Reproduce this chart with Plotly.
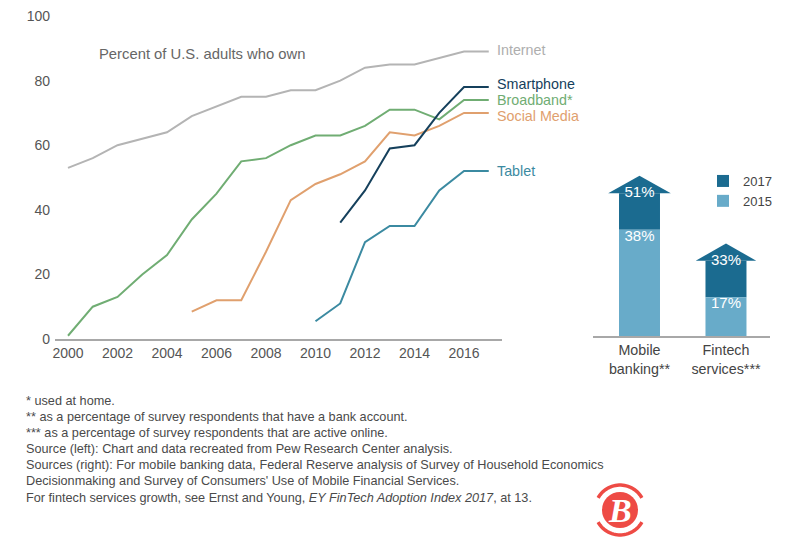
import numpy as np
import plotly.graph_objects as go

W, H = 800, 544
years = list(range(2000, 2018))
internet = [53, 56, 60, 62, 64, 69, 72, 75, 75, 77, 77, 80, 84, 85, 85, 87, 89, 89]
broadband = [1, 10, 13, 20, 26, 37, 45, 55, 56, 60, 63, 63, 66, 71, 71, 68, 74, 74]
social_years = list(range(2005, 2018))
social = [8.5, 12, 12, 27, 43, 48, 51, 55, 64, 63, 66, 70, 70]
smart_years = list(range(2011, 2018))
smartphone = [36, 46, 59, 60, 70, 78, 78]
tablet_years = list(range(2010, 2018))
tablet = [5.5, 11, 30, 35, 35, 46, 52, 52]

bar_categories = ["Mobile<br>banking**", "Fintech<br>services***"]
values_2015 = [38, 17]
values_2017 = [51, 33]

footnotes = [
    "* used at home.",
    "** as a percentage of survey respondents that have a bank account.",
    "*** as a percentage of survey respondents that are active online.",
    "Source (left): Chart and data recreated from Pew Research Center analysis.",
    "Sources (right): For mobile banking data, Federal Reserve analysis of Survey of Household Economics",
    "Decisionmaking and Survey of Consumers' Use of Mobile Financial Services.",
    "For fintech services growth, see Ernst and Young, <i>EY FinTech Adoption Index 2017</i>, at 13.",
]
foot_y = [401, 417, 433, 449, 465, 481, 498]

C_INT, C_BB, C_SOC, C_SM, C_TAB = "#b4b4b4", "#70ad73", "#e0a06e", "#15405c", "#3b8aa1"
C_17, C_15 = "#1b6b90", "#68abc9"
FONT = "Liberation Sans"

def px(x): return x / W
def py(y): return 1 - y / H

fig = go.Figure()
series = [("Internet", years, internet, C_INT), ("Broadband*", years, broadband, C_BB),
          ("Social Media", social_years, social, C_SOC), ("Smartphone", smart_years, smartphone, C_SM),
          ("Tablet", tablet_years, tablet, C_TAB)]
for name, xs, ys, c in series:
    fig.add_trace(go.Scatter(x=xs, y=ys, mode="lines", name=name, showlegend=False,
                             line=dict(color=c, width=2), xaxis="x", yaxis="y"))

# Right panel: each arrow has its own y scale, as in the reference
yaxes = ["y2", "y3"]
head_h = [6.3, 7.6]     # in axis units
head_w = [0.362, 0.35]
for i, ya in enumerate(yaxes):
    fig.add_trace(go.Bar(x=[i], y=[values_2017[i] - values_2015[i]], base=[values_2015[i]], width=0.474,
                         marker=dict(color=C_17, line=dict(width=0)), name="2017",
                         showlegend=i == 0, xaxis="x2", yaxis=ya))
for i, ya in enumerate(yaxes):
    fig.add_trace(go.Bar(x=[i], y=[values_2015[i]], base=[0], width=0.474,
                         marker=dict(color=C_15, line=dict(width=0)), name="2015",
                         showlegend=i == 0, xaxis="x2", yaxis=ya))
for i, ya in enumerate(yaxes):
    v = values_2017[i]
    fig.add_trace(go.Scatter(x=[i - head_w[i], i, i + head_w[i]], y=[v, v + head_h[i], v], mode="lines",
                             fill="toself", fillcolor=C_17, line=dict(width=0), showlegend=False,
                             hoverinfo="skip", xaxis="x2", yaxis=ya))
    fig.add_trace(go.Scatter(x=[i], y=[v], mode="text", text=[f"{v}%"], textposition="middle center",
                             textfont=dict(color="white", size=15, family=FONT), showlegend=False,
                             xaxis="x2", yaxis=ya))
    w = values_2015[i]
    fig.add_trace(go.Scatter(x=[i], y=[w], mode="text", text=[f"{w}%"], textposition="bottom center",
                             textfont=dict(color="white", size=15, family=FONT), showlegend=False,
                             xaxis="x2", yaxis=ya))

annotations = []
for text, y, c in [("Internet", 50, "#aeaeae"), ("Smartphone", 84, C_SM), ("Broadband*", 100, C_BB),
                   ("Social Media", 116, C_SOC), ("Tablet", 171, C_TAB)]:
    annotations.append(dict(text=text, x=px(495), y=py(y), xref="paper", yref="paper", showarrow=False,
                            xanchor="left", yanchor="middle", font=dict(size=14.3, color=c, family=FONT)))
annotations.append(dict(text="Percent of U.S. adults who own", x=px(97), y=py(54), xref="paper", yref="paper",
                        showarrow=False, xanchor="left", yanchor="middle",
                        font=dict(size=14.8, color="#666666", family=FONT)))
for t, y in zip(footnotes, foot_y):
    annotations.append(dict(text=t, x=px(24), y=py(y), xref="paper", yref="paper", showarrow=False,
                            xanchor="left", yanchor="middle", font=dict(size=12.7, color="#4a4a4a", family=FONT)))
annotations.append(dict(text="<b><i>B</i></b>", x=px(620), y=py(510), xref="paper", yref="paper", showarrow=False,
                        xanchor="center", yanchor="middle", font=dict(size=34, color="white", family="Liberation Serif")))

def arc(a0, a1, cx=620, cy=510, r=25):
    t = np.radians(np.linspace(a0, a1, 30))
    pts = [(px(cx + r * np.cos(a)), py(cy - r * np.sin(a))) for a in t]
    return "M" + " L".join(f"{x:.5f},{y:.5f}" for x, y in pts)

shapes = [
    dict(type="circle", xref="paper", yref="paper", x0=px(602), x1=px(638), y0=py(528), y1=py(492),
         fillcolor="#ee4b45", line=dict(width=0)),
    dict(type="path", xref="paper", yref="paper", path=arc(29, 151), line=dict(color="#ee4b45", width=3.5)),
    dict(type="path", xref="paper", yref="paper", path=arc(209, 331), line=dict(color="#ee4b45", width=3.5)),
]

fig.update_layout(
    width=W, height=H, margin=dict(l=0, r=0, t=0, b=0), paper_bgcolor="white", plot_bgcolor="white",
    font=dict(family=FONT, color="#555555"), barmode="overlay", annotations=annotations, shapes=shapes,
    xaxis=dict(domain=[px(55), px(502)], range=[1999.475, 2017.535], tickvals=list(range(2000, 2018, 2)),
               showgrid=False, zeroline=False, showline=True, linecolor="#a8a8a8", linewidth=1.5, ticks="",
               tickfont=dict(size=14, color="#555555"), automargin=False),
    yaxis=dict(domain=[py(339), py(16)], range=[0, 100], tickvals=list(range(0, 101, 20)), showgrid=False,
               zeroline=False, showline=False, ticks="", tickfont=dict(size=14, color="#555555"), automargin=False,
               ticklabelstandoff=4),
    xaxis2=dict(domain=[px(593), px(770)], range=[-0.5376, 1.509], tickvals=[0, 1], ticktext=bar_categories,
                showgrid=False, zeroline=False, showline=True, linecolor="#a8a8a8", linewidth=1.5, ticks="",
                anchor="y2", tickfont=dict(size=14.3, color="#444444"), automargin=False),
    yaxis2=dict(domain=[py(336), py(170)], range=[0, 166 / 2.798], visible=False, anchor="x2", automargin=False),
    yaxis3=dict(domain=[py(336), py(170)], range=[0, 166 / 2.28], visible=False, anchor="x2", overlaying="y2",
                automargin=False),
    legend=dict(x=px(703), y=py(166), xanchor="left", yanchor="top", bgcolor="rgba(0,0,0,0)", traceorder="normal",
                font=dict(size=13, color="#444444"), itemwidth=30),
)
fig.write_html("out.html", config={"displayModeBar": False},
               post_script="document.body.style.margin='0';document.documentElement.style.overflow='hidden';")
